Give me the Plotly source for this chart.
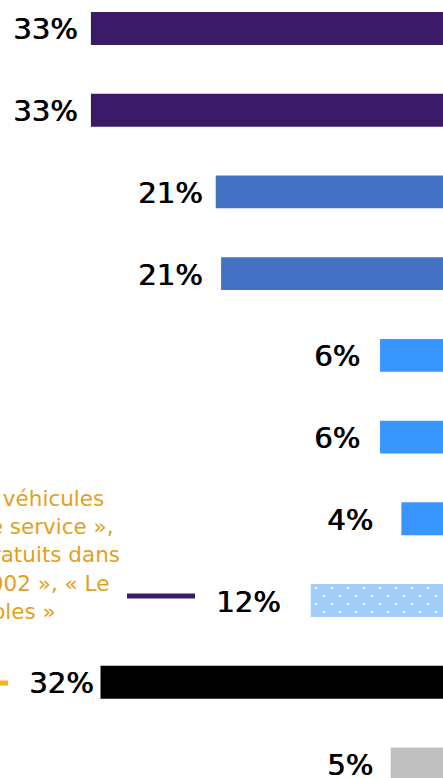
import plotly.graph_objects as go

W, H = 443, 778

# ---- data ----
values = [33.0, 33.0, 21.3, 20.8, 5.9, 5.9, 3.9, 12.4, 32.1, 4.9]
labels = ["33%", "33%", "21%", "21%", "6%", "6%", "4%", "12%", "32%", "5%"]
colors = ["#3B1A68", "#3B1A68", "#4472C4", "#4472C4", "#3A96FF",
          "#3A96FF", "#3A96FF", "#A4CEFA", "#000000", "#BFBFBF"]
dotted = [False, False, False, False, False, False, False, True, False, False]
orange_lines = ["« Les véhicules", "en libre service »,", "« Des parkings gratuits dans",
                "Paris depuis 2002 », « Le", "« Les voitures durables »"]

# ---- style (pixel offsets, not data) ----
label_gap = [12, 12, 12, 17, 18, 18, 26, 29, 6, 16]
orange_right_px = [106, 116, 122, 111, 58]
orange_center_px = [498, 526, 554, 583, 611]

idx = list(range(len(values)))

fig = go.Figure()
fig.add_trace(go.Bar(
    x=values, y=idx, orientation="h", width=0.403,
    marker=dict(color=colors, line=dict(width=0)),
    hoverinfo="skip",
))
# white staggered dot texture laid over the patterned bars
dx = [v for v, d in zip(values, dotted) if d]
dy = [i for i, d in zip(idx, dotted) if d]
fig.add_trace(go.Bar(
    x=dx, y=dy, orientation="h", width=0.403,
    marker=dict(color="rgba(0,0,0,0)", line=dict(width=0),
                pattern=dict(path="M3,3h2v2h-2z M11,11h2v2h-2z",
                             fgcolor="#FFFFFF", bgcolor="rgba(0,0,0,0)",
                             fgopacity=1, size=16, solidity=0.3, fillmode="replace")),
    hoverinfo="skip",
))

annotations = []
for v, i, lab, g in zip(values, idx, labels, label_gap):
    annotations.append(dict(
        x=v, y=i, xref="x", yref="y", text=lab, showarrow=False,
        xanchor="right", yanchor="middle", xshift=-g, yshift=-1,
        font=dict(family="DejaVu Sans", size=29, color="#000000",
                  shadow="0.8px 0 0 #000000"),
    ))
for t, rx, cy in zip(orange_lines, orange_right_px, orange_center_px):
    annotations.append(dict(
        x=rx / W, y=1 - cy / H, xref="paper", yref="paper", text=t, showarrow=False,
        xanchor="right", yanchor="middle",
        font=dict(family="DejaVu Sans", size=21.5, color="#E2A01E"),
    ))

shapes = [
    dict(type="line", xref="paper", yref="paper", x0=127 / W, x1=195 / W,
         y0=1 - 596 / H, y1=1 - 596 / H, line=dict(color="#3B1A68", width=5)),
    dict(type="line", xref="paper", yref="paper", x0=0, x1=8 / W,
         y0=1 - 683 / H, y1=1 - 683 / H, line=dict(color="#F5B21E", width=5)),
]

fig.update_layout(
    width=W, height=H, margin=dict(l=0, r=0, t=0, b=0),
    paper_bgcolor="white", plot_bgcolor="white", barmode="overlay",
    showlegend=False, annotations=annotations, shapes=shapes,
    xaxis=dict(range=[41.52, 0], visible=False, fixedrange=True),
    yaxis=dict(range=[9.171, -0.348], visible=False, fixedrange=True),
)
fig.write_html("out.html", config=dict(displayModeBar=False))

with open("out.html", encoding="utf-8") as f:
    html = f.read()
html = html.replace("<head>", "<head><style>html,body{margin:0;padding:0;overflow:hidden}</style>", 1)
with open("out.html", "w", encoding="utf-8") as f:
    f.write(html)
